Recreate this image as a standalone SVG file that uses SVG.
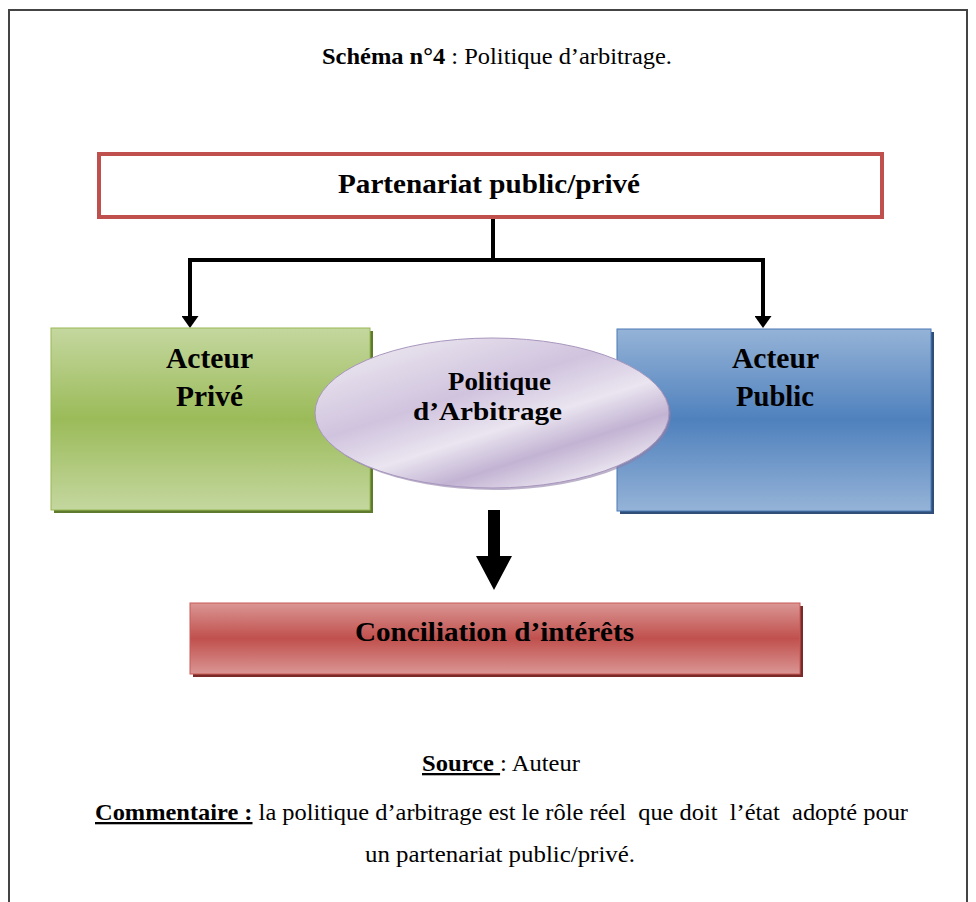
<svg xmlns="http://www.w3.org/2000/svg" width="976" height="902" viewBox="0 0 976 902">
<defs>
<linearGradient id="gGreen" x1="0" y1="0" x2="0" y2="1">
<stop offset="0" stop-color="#c4d79f"/><stop offset="0.5" stop-color="#9bbb59"/><stop offset="1" stop-color="#c4d79f"/>
</linearGradient>
<linearGradient id="gBlue" x1="0" y1="0" x2="0" y2="1">
<stop offset="0" stop-color="#95b3d7"/><stop offset="0.5" stop-color="#4f81bd"/><stop offset="1" stop-color="#95b3d7"/>
</linearGradient>
<linearGradient id="gRed" x1="0" y1="0" x2="0" y2="1">
<stop offset="0" stop-color="#da9694"/><stop offset="0.5" stop-color="#c0504d"/><stop offset="1" stop-color="#da9694"/>
</linearGradient>
<linearGradient id="gPurple" x1="0.2" y1="0.1" x2="0.8" y2="0.9">
<stop offset="0" stop-color="#e6e0ec"/><stop offset="0.35" stop-color="#d0c3de"/><stop offset="0.6" stop-color="#eae5f0"/><stop offset="0.8" stop-color="#c2b3d3"/><stop offset="1" stop-color="#e8e2ee"/>
</linearGradient>
<marker id="ah" viewBox="0 0 12 17" refX="0" refY="8.5" markerWidth="3" markerHeight="4.25" markerUnits="strokeWidth" orient="auto">
<path d="M0,0 L12,8.5 L0,17 z" fill="#000"/>
</marker>
</defs>
<style>
.t{font-family:"Liberation Serif","Times New Roman",serif;fill:#000}
.b{font-weight:bold}
.conn{fill:none;stroke:#000;stroke-width:4}
</style>
<rect x="0" y="0" width="976" height="902" fill="#fff"/>
<path d="M9,905 V10 H967 V905" fill="none" stroke="#444" stroke-width="2"/>
<text class="t" x="322" y="64" font-size="23" textLength="350" lengthAdjust="spacingAndGlyphs"><tspan class="b">Schéma n°4</tspan> : Politique d’arbitrage.</text>

<g id="partenariat">
<rect x="99" y="154" width="783" height="63" fill="#fff" stroke="#c0504d" stroke-width="4"/>
<text class="t b" x="338" y="193" font-size="28" textLength="302" lengthAdjust="spacingAndGlyphs">Partenariat public/privé</text>
</g>

<g id="connectors">
<path class="conn" d="M493,219 V260 H190 V316" marker-end="url(#ah)"/>
<path class="conn" d="M493,260 H763 V316" marker-end="url(#ah)"/>
<path d="M488,510 H500 V556 H512 L494,590 L476,556 H488 Z" fill="#000"/>
</g>

<g id="prive">
<rect x="54" y="331" width="319" height="182" fill="#5e7a2d"/>
<rect x="51" y="328" width="319" height="182" fill="url(#gGreen)" stroke="#98b954" stroke-width="1"/>
<text class="t b" x="166" y="368" font-size="29" textLength="87" lengthAdjust="spacingAndGlyphs">Acteur</text>
<text class="t b" x="176" y="406" font-size="29" textLength="67" lengthAdjust="spacingAndGlyphs">Privé</text>
</g>

<g id="public">
<rect x="620" y="332" width="314" height="182" fill="#2f4f78"/>
<rect x="617" y="329" width="314" height="182" fill="url(#gBlue)" stroke="#4a7ab5" stroke-width="1"/>
<text class="t b" x="732" y="368" font-size="29" textLength="87" lengthAdjust="spacingAndGlyphs">Acteur</text>
<text class="t b" x="736" y="406" font-size="29" textLength="78" lengthAdjust="spacingAndGlyphs">Public</text>
</g>

<g id="arbitrage">
<ellipse cx="494" cy="415" rx="177" ry="75" fill="#8f7fa6" opacity="0.6"/>
<ellipse cx="492" cy="413" rx="177" ry="75" fill="url(#gPurple)" stroke="#a896be" stroke-width="1"/>
<text class="t b" x="448" y="390" font-size="26" textLength="103" lengthAdjust="spacingAndGlyphs">Politique</text>
<text class="t b" x="413" y="420" font-size="26" textLength="149" lengthAdjust="spacingAndGlyphs">d’Arbitrage</text>
</g>

<g id="conciliation">
<rect x="193" y="606" width="610" height="71" fill="#7a2a28"/>
<rect x="190" y="603" width="610" height="71" fill="url(#gRed)" stroke="#c85a57" stroke-width="1"/>
<text class="t b" x="355" y="641" font-size="28" textLength="279" lengthAdjust="spacingAndGlyphs">Conciliation d’intérêts</text>
</g>

<text class="t" x="422" y="771" font-size="23" textLength="158" lengthAdjust="spacingAndGlyphs"><tspan class="b" text-decoration="underline">Source </tspan>: Auteur</text>
<text class="t" x="95" y="820" font-size="23" textLength="813" lengthAdjust="spacingAndGlyphs" xml:space="preserve"><tspan class="b" text-decoration="underline">Commentaire :</tspan> la politique d’arbitrage est le rôle réel  que doit  l’état  adopté pour</text>
<text class="t" x="365" y="862" font-size="23" textLength="270" lengthAdjust="spacingAndGlyphs">un partenariat public/privé.</text>
</svg>
